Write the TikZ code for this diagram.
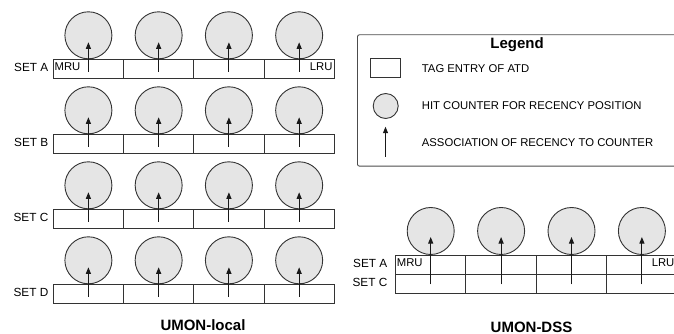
\documentclass[tikz,border=0pt]{standalone}
\usepackage{fontspec}
\setmainfont{Liberation Sans}
\usetikzlibrary{arrows.meta}
\tikzset{
  cell/.style={draw=black!80, fill=white, minimum width=70.25pt, minimum height=19pt,
    inner sep=0pt, line width=0.9pt},
  dsscell/.style={cell, minimum width=70.4pt},
  counter/.style={circle, draw=black!80, fill=black!10, minimum size=47pt,
    inner sep=0pt, line width=0.9pt},
  assoc/.style={-{Triangle[length=6.5pt,width=5pt]}, line width=1pt, draw=black!90, fill=black!90},
  lbl/.style={font=\fontsize{11.3}{13}\selectfont, inner sep=0pt},
  setlbl/.style={font=\fontsize{11.8}{13}\selectfont, inner sep=0pt, anchor=east},
  heading/.style={font=\bfseries\fontsize{15}{17}\selectfont, inner sep=0pt},
}
\begin{document}
\begin{tikzpicture}[x=1pt,y=-1pt]
\useasboundingbox (0,0) rectangle (674,334);
\clip (0,0) rectangle (674,334);

% UMON-local: four sets, each with four recency positions
\foreach \s [count=\k from 0] in {A,B,C,D} {
  \pgfmathsetmacro\rowy{68.8+75*\k}
  \node[setlbl] (lab\s) at (48.5,\rowy-1.6) {SET \s};
  \foreach \i in {0,...,3} {
    \pgfmathsetmacro\cx{88.4+70.25*\i}
    \node[counter] (h\s\i) at (\cx,\rowy-33.5) {};
    \node[cell] (t\s\i) at (\cx,\rowy) {};
    \coordinate (f\s\i) at (\cx,\rowy+2.9);
    \draw[assoc] (f\s\i) -- ([yshift=-7pt]h\s\i.center);
  }
}
\node[lbl, anchor=west] (mruL) at ([xshift=1.6pt,yshift=2pt]tA0.west) {MRU};
\node[lbl, anchor=east] (lruL) at ([xshift=-2pt,yshift=2pt]tA3.east) {LRU};
\node[heading] (titleL) at (203,325.5) {UMON-local};

% Legend
\node[draw=black!70, line width=0.9pt, rounded corners=2pt, anchor=north west,
  minimum width=340pt, minimum height=131.4pt, inner sep=0pt] (legend) at (357,34.3) {};
\node[heading] (legT) at (517,44.5) {Legend};
\node[cell, minimum width=30pt, minimum height=19pt] (legCell) at (385.8,67.8) {};
\node[lbl, anchor=west] (legCellT) at (421.7,69) {TAG ENTRY OF ATD};
\node[counter, minimum size=25pt] (legCnt) at (385.7,106) {};
\node[lbl, anchor=west] (legCntT) at (421.7,105.5) {HIT COUNTER FOR RECENCY POSITION};
\coordinate (legArrA) at (385.5,156.7);
\coordinate (legArrB) at (385.5,126.7);
\draw[assoc] (legArrA) -- (legArrB);
\node[lbl, anchor=west] (legArrT) at (421.7,143) {ASSOCIATION OF RECENCY TO COUNTER};

% UMON-DSS: counters shared by the sampled sets
\foreach \i in {0,...,3} {
  \pgfmathsetmacro\cx{430.7+70.4*\i}
  \node[counter] (g\i) at (\cx,231) {};
  \node[dsscell] (dA\i) at (\cx,264.5) {};
  \node[dsscell] (dC\i) at (\cx,283.5) {};
  \coordinate (e\i) at (\cx,284);
  \draw[assoc] (e\i) -- ([yshift=-6pt]g\i.center);
}
\node[setlbl] (labDA) at (387.5,263.6) {SET A};
\node[setlbl] (labDC) at (387.5,282.6) {SET C};
\node[lbl, anchor=west] (mruD) at ([xshift=1.6pt,yshift=1.5pt]dA0.west) {MRU};
\node[lbl, anchor=east] (lruD) at ([xshift=-3pt,yshift=1.5pt]dA3.east) {LRU};
\node[heading] (titleD) at (531.5,327) {UMON-DSS};
\end{tikzpicture}
\end{document}
